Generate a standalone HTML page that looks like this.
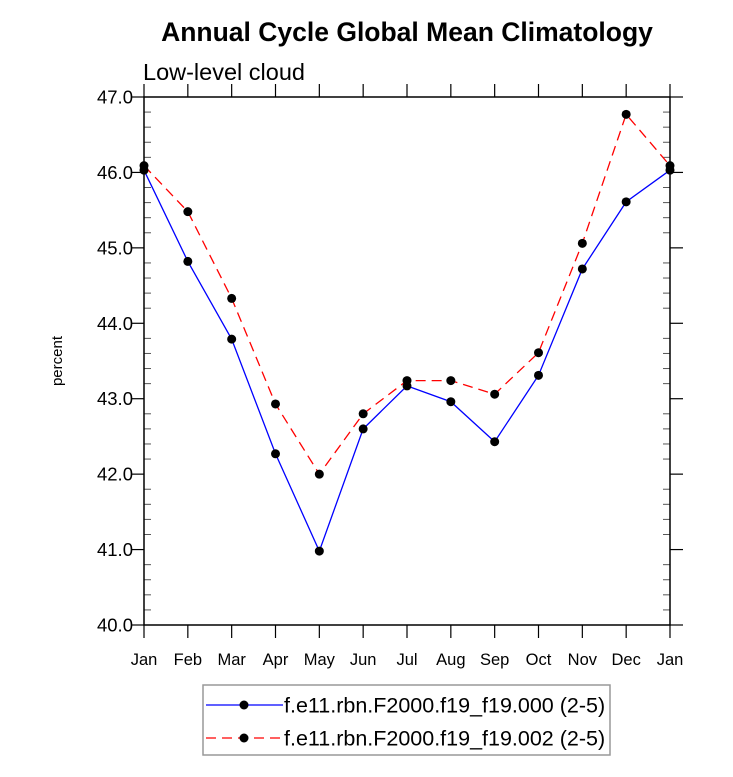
<!DOCTYPE html>
<html><head><meta charset="utf-8"><style>body{margin:0;background:#fff}svg{display:block;font-family:"Liberation Sans",sans-serif}</style></head>
<body>
<svg id="c" width="733" height="777"></svg>
<script>
const months=["Jan","Feb","Mar","Apr","May","Jun","Jul","Aug","Sep","Oct","Nov","Dec","Jan"];
const blueVals=[46.03,44.82,43.79,42.27,40.98,42.6,43.17,42.96,42.43,43.31,44.72,45.61,46.03];
const redVals=[46.09,45.48,44.33,42.93,42.0,42.8,43.24,43.24,43.06,43.61,45.06,46.77,46.09];
const yTicks=[40,41,42,43,44,45,46,47];
const yTickLabels=["40.0","41.0","42.0","43.0","44.0","45.0","46.0","47.0"];
const L=144,R=670,T=97,B=625;
const xs=i=>L+(R-L)*i/12;
const ys=v=>B-(v-40)/7*(B-T);
const svg=document.getElementById('c');
const NS="http://www.w3.org/2000/svg";
function mk(t,a,p){const e=document.createElementNS(NS,t);for(const k in a)e.setAttribute(k,a[k]);(p||svg).appendChild(e);return e;}
let e;
e=mk('text',{x:407,y:41,'text-anchor':'middle','font-size':26.5,'font-weight':'bold'});e.textContent='Annual Cycle Global Mean Climatology';


e=mk('text',{x:143,y:80,'font-size':23.5});e.textContent='Low-level cloud';


e=mk('text',{x:62,y:361,'text-anchor':'middle','font-size':15,transform:'rotate(-90 62 361)'});e.textContent='percent';


for(let v=40.2;v<47;v+=0.2){if(Math.abs(v-Math.round(v))<0.01)continue;const y=ys(v);
 mk('line',{x1:L,x2:L+7,y1:y,y2:y,stroke:'#555','stroke-width':1});
 mk('line',{x1:R,x2:R-7,y1:y,y2:y,stroke:'#555','stroke-width':1});}
yTicks.forEach((v,i)=>{const y=ys(v);
 mk('line',{x1:L-13,x2:L,y1:y,y2:y,stroke:'#000','stroke-width':1.2});
 mk('line',{x1:R,x2:R+13,y1:y,y2:y,stroke:'#000','stroke-width':1.2});
 const t=mk('text',{x:L-11,y:y+6.5,'text-anchor':'end','font-size':18.5});t.textContent=yTickLabels[i];
 
 });
months.forEach((m,i)=>{const x=xs(i);
 mk('line',{x1:x,x2:x,y1:B,y2:B+13,stroke:'#000','stroke-width':1.2});
 mk('line',{x1:x,x2:x,y1:T,y2:T-13,stroke:'#000','stroke-width':1.2});
 const t=mk('text',{x:x,y:665,'text-anchor':'middle','font-size':16.5});t.textContent=m;
 
 });
e=mk('rect',{x:L,y:T,width:R-L,height:B-T,fill:'none',stroke:'#000','stroke-width':1.5});


function series(vals,color,dash,name){
 const p=mk('polyline',{points:vals.map((v,i)=>xs(i)+','+ys(v)).join(' '),fill:'none',stroke:color,'stroke-width':1.3,'stroke-dasharray':dash});
 
 
 vals.forEach((v,i)=>{const c=mk('circle',{cx:xs(i),cy:ys(v),r:4.5,fill:'#000'});
  
  });}
series(redVals,'#f00','10 6','red-series');
series(blueVals,'#00f','none','blue-series');
const g=mk('g',{});


mk('rect',{x:203,y:685,width:407,height:70,fill:'none',stroke:'#999','stroke-width':1.5},g);
[[705,'#00f','none','f.e11.rbn.F2000.f19_f19.000 (2-5)'],[738,'#f00','10 6','f.e11.rbn.F2000.f19_f19.002 (2-5)']].forEach(r=>{
 mk('line',{x1:206,x2:283,y1:r[0],y2:r[0],stroke:r[1],'stroke-width':1.3,'stroke-dasharray':r[2]},g);
 mk('circle',{cx:244,cy:r[0],r:4.5,fill:'#000'},g);
 const t=mk('text',{x:284,y:r[0]+7.5,'font-size':21.5},g);t.textContent=r[3];
 
 });
</script>
</body></html>
